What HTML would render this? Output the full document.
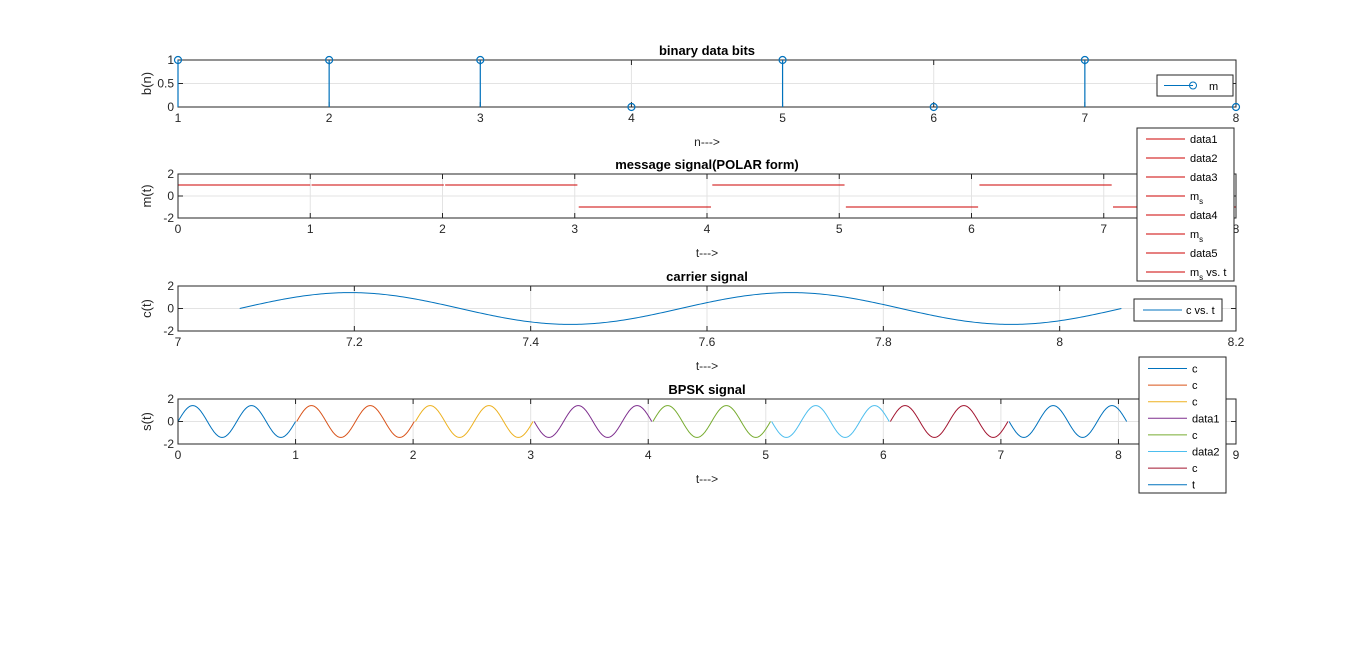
<!DOCTYPE html>
<html><head><meta charset="utf-8"><style>
body{margin:0;background:#fff;}
svg{font-family:"Liberation Sans",Arial,sans-serif;}
</style></head><body>
<svg id="fig" width="1366" height="652" viewBox="0 0 1366 652" xmlns="http://www.w3.org/2000/svg"></svg>
<script>
const bits = [1,1,1,0,1,0,1,0];
const bitIndex = [1,2,3,4,5,6,7,8];
const segGap = 0.01;
const carrierFreq = 2;
const carrierAmp = 1.4142;
const segColors = ['#0072BD','#D95319','#EDB120','#7E2F8E','#77AC30','#4DBEEE','#A2142F','#0072BD'];
const ticks1 = [1,2,3,4,5,6,7,8];
const ticks2 = [0,1,2,3,4,5,6,7,8];
const ticks3 = [7,7.2,7.4,7.6,7.8,8,8.2];
const ticks4 = [0,1,2,3,4,5,6,7,8,9];
const legend2 = ['data1','data2','data3','m_s','data4','m_s','data5','m_s vs. t'];
const legend4 = ['c','c','c','data1','c','data2','c','t'];

const svg = document.getElementById('fig');
const NS = 'http://www.w3.org/2000/svg';
function mk(tag, attrs, parent){const e=document.createElementNS(NS,tag);for(const k in attrs)e.setAttribute(k,attrs[k]);(parent||svg).appendChild(e);return e;}
const X0=178, X1=1236;
const defs=mk('defs',{});
let clipN=0;

function axes(name, top, bot, xmin, xmax, ymin, ymax, xt, yt, ytl, title, xlabel, ylabel){
  const g=mk('g',{});
  
  
  const sx=v=>X0+(v-xmin)/(xmax-xmin)*(X1-X0);
  const sy=v=>bot-(v-ymin)/(ymax-ymin)*(bot-top);
  xt.forEach(v=>{mk('line',{x1:sx(v),x2:sx(v),y1:top,y2:bot,stroke:'#e3e3e3','stroke-width':1},g);});
  yt.forEach(v=>{mk('line',{x1:X0,x2:X1,y1:sy(v),y2:sy(v),stroke:'#e3e3e3','stroke-width':1},g);});
  xt.forEach(v=>{
    mk('line',{x1:sx(v),x2:sx(v),y1:bot,y2:bot-5,stroke:'#262626'},g);
    mk('line',{x1:sx(v),x2:sx(v),y1:top,y2:top+5,stroke:'#262626'},g);
    const t=mk('text',{x:sx(v),y:bot+15,'font-size':12,'text-anchor':'middle',fill:'#262626'},g);t.textContent=v;
    
  });
  yt.forEach((v,i)=>{
    mk('line',{x1:X0,x2:X0+5,y1:sy(v),y2:sy(v),stroke:'#262626'},g);
    mk('line',{x1:X1,x2:X1-5,y1:sy(v),y2:sy(v),stroke:'#262626'},g);
    const t=mk('text',{x:X0-4,y:sy(v)+4,'font-size':12,'text-anchor':'end',fill:'#262626'},g);t.textContent=ytl[i];
    
  });
  const id='clip'+(clipN++);
  const cp=mk('clipPath',{id},defs);
  mk('rect',{x:X0-4,y:top-4,width:X1-X0+8,height:bot-top+8},cp);
  const cp2=mk('clipPath',{id:id+'b'},defs);
  mk('rect',{x:X0,y:top-4,width:X1-X0,height:bot-top+8},cp2);
  const plot=mk('g',{'clip-path':`url(#${id}b)`},g);
  mk('rect',{x:X0,y:top,width:X1-X0,height:bot-top,fill:'none',stroke:'#262626','stroke-width':1},g);
  const tt=mk('text',{x:707,y:top-5,'font-size':13,'font-weight':'bold','text-anchor':'middle',fill:'#000'},g);tt.textContent=title;
  
  const xl=mk('text',{x:707,y:bot+39,'font-size':12,'text-anchor':'middle',fill:'#262626'},g);xl.textContent=xlabel;
  
  const yc=(top+bot)/2;
  const yl=mk('text',{x:0,y:0,'font-size':13,'text-anchor':'middle',fill:'#262626',transform:`translate(151,${yc}) rotate(-90)`},g);yl.textContent=ylabel;
  
  return {g,sx,sy,plot};
}

// Panel 1
const p1=axes('stem-plot',60,107,1,8,0,1,ticks1,[0,0.5,1],['0','0.5','1'],'binary data bits','n--->','b(n)');
bits.forEach((b,i)=>{
  const x=p1.sx(bitIndex[i]);
  const s=mk('line',{x1:x,x2:x,y1:p1.sy(0),y2:p1.sy(b),stroke:'#0072BD','stroke-width':1.2},p1.g);
  
  const c=mk('circle',{cx:x,cy:p1.sy(b),r:3.5,fill:'none',stroke:'#0072BD','stroke-width':1.2},p1.g);
  
});
const lg1=mk('g',{});

mk('rect',{x:1157,y:75,width:76,height:21,fill:'#fff',stroke:'#262626'},lg1);
mk('line',{x1:1164,x2:1193,y1:85.5,y2:85.5,stroke:'#0072BD'},lg1);
mk('circle',{cx:1193,cy:85.5,r:3.5,fill:'none',stroke:'#0072BD'},lg1);
mk('text',{x:1209,y:90,'font-size':11,fill:'#000'},lg1).textContent='m';

// Panel 2
const p2=axes('message-signal-plot',174,218,0,8,-2,2,ticks2,[-2,0,2],['-2','0','2'],'message signal(POLAR form)','t--->','m(t)');
bits.forEach((b,k)=>{
  const t0=k*(1+segGap), t1=t0+1, v=b?1:-1;
  const l=mk('line',{x1:p2.sx(t0),x2:p2.sx(t1),y1:p2.sy(v),y2:p2.sy(v),stroke:'#CC0000','stroke-width':1},p2.plot);
  
});

// Panel 3
const p3=axes('carrier-plot',286,331,7,8.2,-2,2,ticks3,[-2,0,2],['-2','0','2'],'carrier signal','t--->','c(t)');
{
  const t0=7*(1+segGap);let d='';
  for(let i=0;i<=400;i++){const t=t0+i/400;const v=carrierAmp*Math.sin(2*Math.PI*carrierFreq*(t-t0));d+=(i?'L':'M')+p3.sx(t).toFixed(2)+','+p3.sy(v).toFixed(2);}
  const p=mk('path',{d,fill:'none',stroke:'#0072BD','stroke-width':1},p3.plot);
  
}
const lg3=mk('g',{});

mk('rect',{x:1134,y:299,width:88,height:22,fill:'#fff',stroke:'#262626'},lg3);
mk('line',{x1:1143,x2:1182,y1:310,y2:310,stroke:'#0072BD'},lg3);
mk('text',{x:1186,y:314,'font-size':11,fill:'#000'},lg3).textContent='c vs. t';

// Panel 4
const p4=axes('bpsk-plot',399,444,0,9,-2,2,ticks4,[-2,0,2],['-2','0','2'],'BPSK signal','t--->','s(t)');
bits.forEach((b,k)=>{
  const t0=k*(1+segGap), sg=b?1:-1;let d='';
  for(let i=0;i<=200;i++){const t=t0+i/200;const v=sg*carrierAmp*Math.sin(2*Math.PI*carrierFreq*(t-t0));d+=(i?'L':'M')+p4.sx(t).toFixed(2)+','+p4.sy(v).toFixed(2);}
  const p=mk('path',{d,fill:'none',stroke:segColors[k],'stroke-width':1},p4.plot);
  
});

// Legend 2
const lg2=mk('g',{});

mk('rect',{x:1137,y:128,width:97,height:153,fill:'#fff',stroke:'#262626'},lg2);
legend2.forEach((s,i)=>{
  const y=139+i*19;
  mk('line',{x1:1146,x2:1185,y1:y,y2:y,stroke:'#CC0000'},lg2);
  const t=mk('text',{x:1190,y:y+4,'font-size':11,fill:'#000'},lg2);
  if(s.startsWith('m_s')){t.textContent='m';const sub=mk('tspan',{dy:4,'font-size':8},t);sub.textContent='s';if(s.length>3){const r=mk('tspan',{dy:-4},t);r.textContent=' vs. t';}}
  else t.textContent=s;
});
// Legend 4
const lg4=mk('g',{});

mk('rect',{x:1139,y:357,width:87,height:136,fill:'#fff',stroke:'#262626'},lg4);
legend4.forEach((s,i)=>{
  const y=368.5+i*16.6;
  mk('line',{x1:1148,x2:1187,y1:y,y2:y,stroke:segColors[i]},lg4);
  mk('text',{x:1192,y:y+4,'font-size':11,fill:'#000'},lg4).textContent=s;
});
</script>
</body></html>
